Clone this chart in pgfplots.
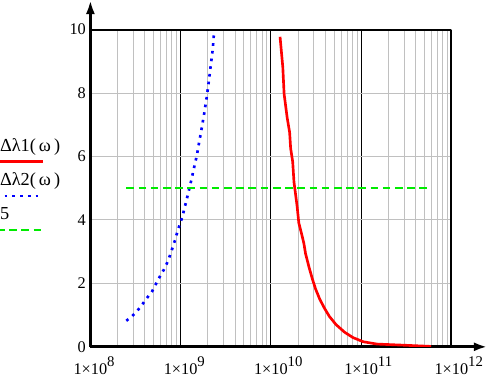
\documentclass[border=0pt]{standalone}
\usepackage{pgfplots}
\pgfplotsset{compat=1.18}
\usepackage{fontspec}
\setmainfont{Liberation Serif}
\usetikzlibrary{arrows.meta}

\definecolor{mcred}{RGB}{255,0,0}
\definecolor{mcblue}{RGB}{0,0,255}
\definecolor{mcgreen}{RGB}{0,235,0}
\definecolor{gridgray}{RGB}{192,192,192}

\newcommand{\ex}[1]{1×10\rlap{\raisebox{8.5pt}{\fontsize{14.5}{15}\selectfont #1}}}

\begin{document}
\begin{tikzpicture}
\begin{axis}[
  scale only axis, width=354.6pt, height=311.7pt,
  xmode=log, xmin=1e8, xmax=1e12, ymin=0, ymax=10,
  axis x line=bottom, axis y line=left,
  x axis line style={line width=2.8pt, -{Latex[length=13pt,width=9pt]}, shorten >=-35pt},
  y axis line style={line width=2.8pt, -{Latex[length=14pt,width=9pt]}, shorten >=-29pt},
  xtick={1e8,1e9,1e10,1e11,1e12},
  xticklabels={\ex{8},\ex{9},\ex{10},\ex{11},\ex{12}},
  minor xtick={2e8,3e8,4e8,5e8,6e8,7e8,8e8,9e8,2e9,3e9,4e9,5e9,6e9,7e9,8e9,9e9,2e10,3e10,4e10,5e10,6e10,7e10,8e10,9e10,2e11,3e11,4e11,5e11,6e11,7e11,8e11,9e11},
  ytick={0,2,4,6,8,10},
  major tick length=0pt, minor tick length=0pt,
  xmajorgrids, xminorgrids, ymajorgrids,
  major x grid style={black, line width=0.8pt},
  minor x grid style={gridgray, line width=0.9pt},
  major y grid style={gridgray, line width=0.9pt},
  tick label style={font=\fontsize{16}{19}\selectfont},
  /pgf/number format/assume math mode=true,
  xticklabel style={yshift=-6pt},
  yticklabel style={xshift=-1pt},
  legend style={at={(axis description cs:-0.251,0.658)}, anchor=north west,
    draw=none, fill=none, inner sep=0pt, row sep=20pt, column sep=0pt,
    nodes={inner sep=0pt, anchor=base west},
    font=\fontsize{18}{20}\selectfont},
  legend cell align=left,
  legend image code/.code={\draw[#1, overlay] (-3pt,-10pt) -- (42pt,-10pt);},
]
\addplot[mcred, line width=2.6pt] coordinates {
(1.263e10,9.77) (1.297e10,9.41) (1.355e10,8.82) (1.401e10,7.97) (1.515e10,7.22)
(1.613e10,6.76) (1.655e10,6.26) (1.744e10,5.83) (1.803e10,5.19) (1.865e10,4.87)
(1.95e10,4.44) (2.04e10,3.90) (2.18e10,3.58) (2.32e10,3.26) (2.42e10,2.94)
(2.64e10,2.52) (2.88e10,2.14) (3.13e10,1.82) (3.48e10,1.50) (3.90e10,1.23)
(4.44e10,0.96) (5.27e10,0.70) (6.56e10,0.46) (8.13e10,0.29) (1.055e11,0.16)
(1.49e11,0.087) (2.74e11,0.055) (5.96e11,0.013)
};
\addlegendentry{Δλ1(\,ω\,)}
\addplot[mcblue, line width=2.6pt, dash pattern=on 2.6pt off 5pt] coordinates {
(2.50e8,0.82) (2.85e8,0.95) (3.24e8,1.10) (3.79e8,1.35) (4.21e8,1.53)
(4.79e8,1.73) (5.23e8,1.94) (5.74e8,2.16) (6.54e8,2.44) (7.07e8,2.64)
(7.64e8,2.89) (8.26e8,3.18) (8.70e8,3.38) (9.17e8,3.61) (9.75e8,3.85)
(1.044e9,4.09) (1.10e9,4.36) (1.16e9,4.62) (1.23e9,4.91) (1.30e9,5.20)
(1.37e9,5.49) (1.44e9,5.77) (1.52e9,6.06) (1.58e9,6.35) (1.65e9,6.64)
(1.72e9,6.93) (1.79e9,7.21) (1.86e9,7.51) (1.93e9,7.80) (1.99e9,8.08)
(2.05e9,8.36) (2.11e9,8.65) (2.17e9,8.94) (2.24e9,9.24) (2.29e9,9.53)
(2.33e9,9.82)
};
\addlegendentry{Δλ2(\,ω\,)}
\addplot[mcgreen, line width=2.4pt, dash pattern=on 7.5pt off 4.5pt] coordinates {
(2.5e8,5) (6e11,5)
};
\addlegendentry{5}
\draw[line width=2.6pt] (rel axis cs:0,1) -- (rel axis cs:1,1) -- (rel axis cs:1,0);
\end{axis}
\end{tikzpicture}
\end{document}
